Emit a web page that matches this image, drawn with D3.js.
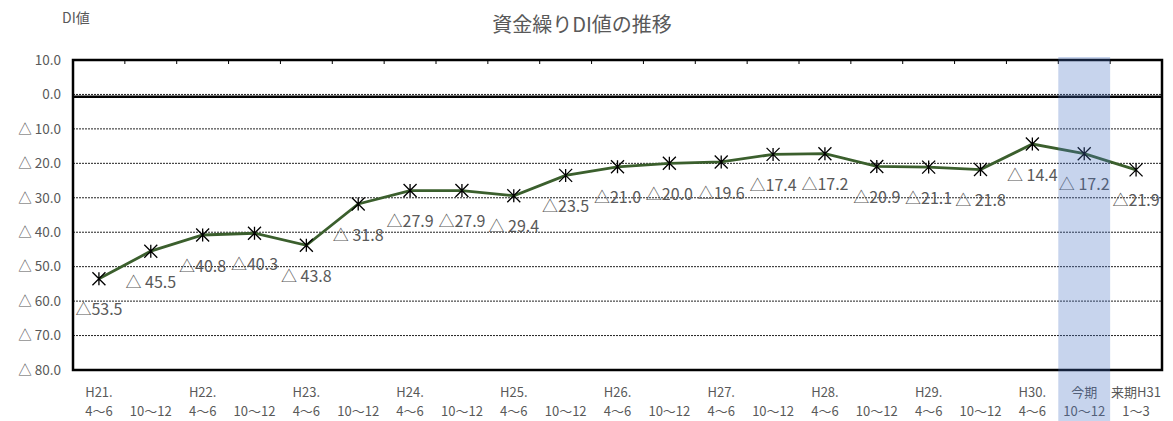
<!DOCTYPE html>
<html>
<head>
<meta charset="utf-8">
<script src="https://cdn.jsdelivr.net/npm/d3@7"></script>
<style>
  body { margin: 0; background: #fff; }
  svg { display: block; font-family: "Noto Sans CJK JP", "Noto Sans", sans-serif; }
</style>
</head>
<body>
<div id="chart"></div>
<script>
// 資金繰りDI値 data
const yearLabels = ['H21.', '', 'H22.', '', 'H23.', '', 'H24.', '', 'H25.', '', 'H26.', '', 'H27.', '', 'H28.', '', 'H29.', '', 'H30.', '今期', '来期H31'];
const quarterLabels = ['4～6', '10～12', '4～6', '10～12', '4～6', '10～12', '4～6', '10～12', '4～6', '10～12',
  '4～6', '10～12', '4～6', '10～12', '4～6', '10～12', '4～6', '10～12', '4～6', '10～12', '1～3'];
const diValues = [-53.5, -45.5, -40.8, -40.3, -43.8, -31.8, -27.9, -27.9, -29.4, -23.5, -21.0,
  -20.0, -19.6, -17.4, -17.2, -20.9, -21.1, -21.8, -14.4, -17.2, -21.9];
const valueLabels = ['△53.5', '△ 45.5', '△40.8', '△40.3', '△ 43.8', '△ 31.8', '△27.9', '△27.9', '△ 29.4', '△23.5', '△21.0',
  '△20.0', '△19.6', '△17.4', '△17.2', '△20.9', '△21.1', '△ 21.8', '△ 14.4', '△ 17.2', '△21.9'];
const yTicks = [10, 0, -10, -20, -30, -40, -50, -60, -70, -80];
const currentIndex = 19; // 今期

const width = 1173, height = 421;
const margin = { top: 60, left: 73, right: 11, bottom: 51 };
const grey = '#595959';

const svg = d3.select('#chart').append('svg')
  .attr('width', width)
  .attr('height', height);

svg.append('rect').attr('width', width).attr('height', height).attr('fill', '#fff');

const x = d3.scaleBand()
  .domain(d3.range(diValues.length))
  .range([margin.left, width - margin.right]);

const y = d3.scaleLinear()
  .domain([-80, 10])
  .range([height - margin.bottom, margin.top]);

// titles
svg.append('text')
  .attr('x', 62).attr('y', 23)
  .attr('font-size', 14).attr('fill', grey)
  .text('DI値');

svg.append('text')
  .attr('x', 582).attr('y', 32)
  .attr('text-anchor', 'middle')
  .attr('font-size', 20).attr('fill', grey)
  .text('資金繰りDI値の推移');

// dotted gridlines
svg.append('g')
  .selectAll('line')
  .data(yTicks.filter(d => d > -80 && d < 10))
  .join('line')
    .attr('x1', margin.left).attr('x2', width - margin.right)
    .attr('y1', d => y(d)).attr('y2', d => y(d))
    .attr('stroke', '#222')
    .attr('stroke-width', 1)
    .attr('stroke-dasharray', '2,1');

// zero line
svg.append('line')
  .attr('x1', margin.left).attr('x2', width - margin.right)
  .attr('y1', y(0) + 2.2).attr('y2', y(0) + 2.2)
  .attr('stroke', '#000')
  .attr('stroke-width', 2.5);

// y axis labels
const yAxis = svg.append('g')
  .attr('transform', 'translate(' + margin.left + ',0)')
  .call(d3.axisLeft(y)
    .tickValues(yTicks)
    .tickSize(0)
    .tickPadding(12)
    .tickFormat(d => d >= 0 ? d.toFixed(1) : '△ ' + Math.abs(d).toFixed(1)));
yAxis.select('.domain').remove();
yAxis.selectAll('text')
  .attr('font-size', 13.5)
  .attr('fill', grey)
  .attr('font-family', '"Noto Sans CJK JP", sans-serif');

// plot frame
svg.append('rect')
  .attr('x', margin.left).attr('y', margin.top)
  .attr('width', width - margin.left - margin.right)
  .attr('height', height - margin.top - margin.bottom)
  .attr('fill', 'none')
  .attr('stroke', '#000')
  .attr('stroke-width', 2.5);

// category ticks along the top
svg.append('g')
  .selectAll('line')
  .data(d3.range(1, diValues.length))
  .join('line')
    .attr('x1', d => x(d)).attr('x2', d => x(d))
    .attr('y1', margin.top).attr('y2', margin.top + 4)
    .attr('stroke', '#000')
    .attr('stroke-width', 1);

// line
const line = d3.line()
  .x((d, i) => x(i) + x.bandwidth() / 2)
  .y(d => y(d));

svg.append('path')
  .datum(diValues)
  .attr('d', line)
  .attr('fill', 'none')
  .attr('stroke', '#3b5f2d')
  .attr('stroke-width', 2.8);

// asterisk markers
const r = 6.5;
const markers = svg.append('g')
  .selectAll('g')
  .data(diValues)
  .join('g')
    .attr('transform', (d, i) => 'translate(' + (x(i) + x.bandwidth() / 2) + ',' + y(d) + ')');
markers.append('path')
  .attr('d', 'M' + (-r) + ',' + (-r) + 'L' + r + ',' + r + 'M' + (-r) + ',' + r + 'L' + r + ',' + (-r) + 'M0,' + (-r) + 'L0,' + r)
  .attr('stroke', '#000')
  .attr('stroke-width', 1.3)
  .attr('fill', 'none');

// data labels
svg.append('g')
  .selectAll('text')
  .data(diValues)
  .join('text')
    .attr('x', (d, i) => x(i) + x.bandwidth() / 2)
    .attr('y', d => y(d) + 31)
    .attr('dy', '0.35em')
    .attr('text-anchor', 'middle')
    .attr('font-size', 16)
    .attr('fill', grey)
    .text((d, i) => valueLabels[i]);

// x labels
const xl = svg.append('g')
  .selectAll('g')
  .data(d3.range(diValues.length))
  .join('g')
    .attr('transform', i => 'translate(' + (x(i) + x.bandwidth() / 2) + ',0)');
xl.append('text')
  .attr('y', 392).attr('dy', '0.35em')
  .attr('text-anchor', 'middle')
  .attr('font-size', 13).attr('fill', grey)
  .text(i => yearLabels[i]);
xl.append('text')
  .attr('y', 411).attr('dy', '0.35em')
  .attr('text-anchor', 'middle')
  .attr('font-size', 13).attr('fill', grey)
  .text(i => quarterLabels[i]);

// highlight for 今期 (drawn on top, translucent)
svg.append('rect')
  .attr('x', x(currentIndex))
  .attr('y', margin.top - 3)
  .attr('width', x.bandwidth())
  .attr('height', height - margin.top + 3)
  .attr('fill', '#4472c4')
  .attr('opacity', 0.3);
</script>
</body>
</html>
